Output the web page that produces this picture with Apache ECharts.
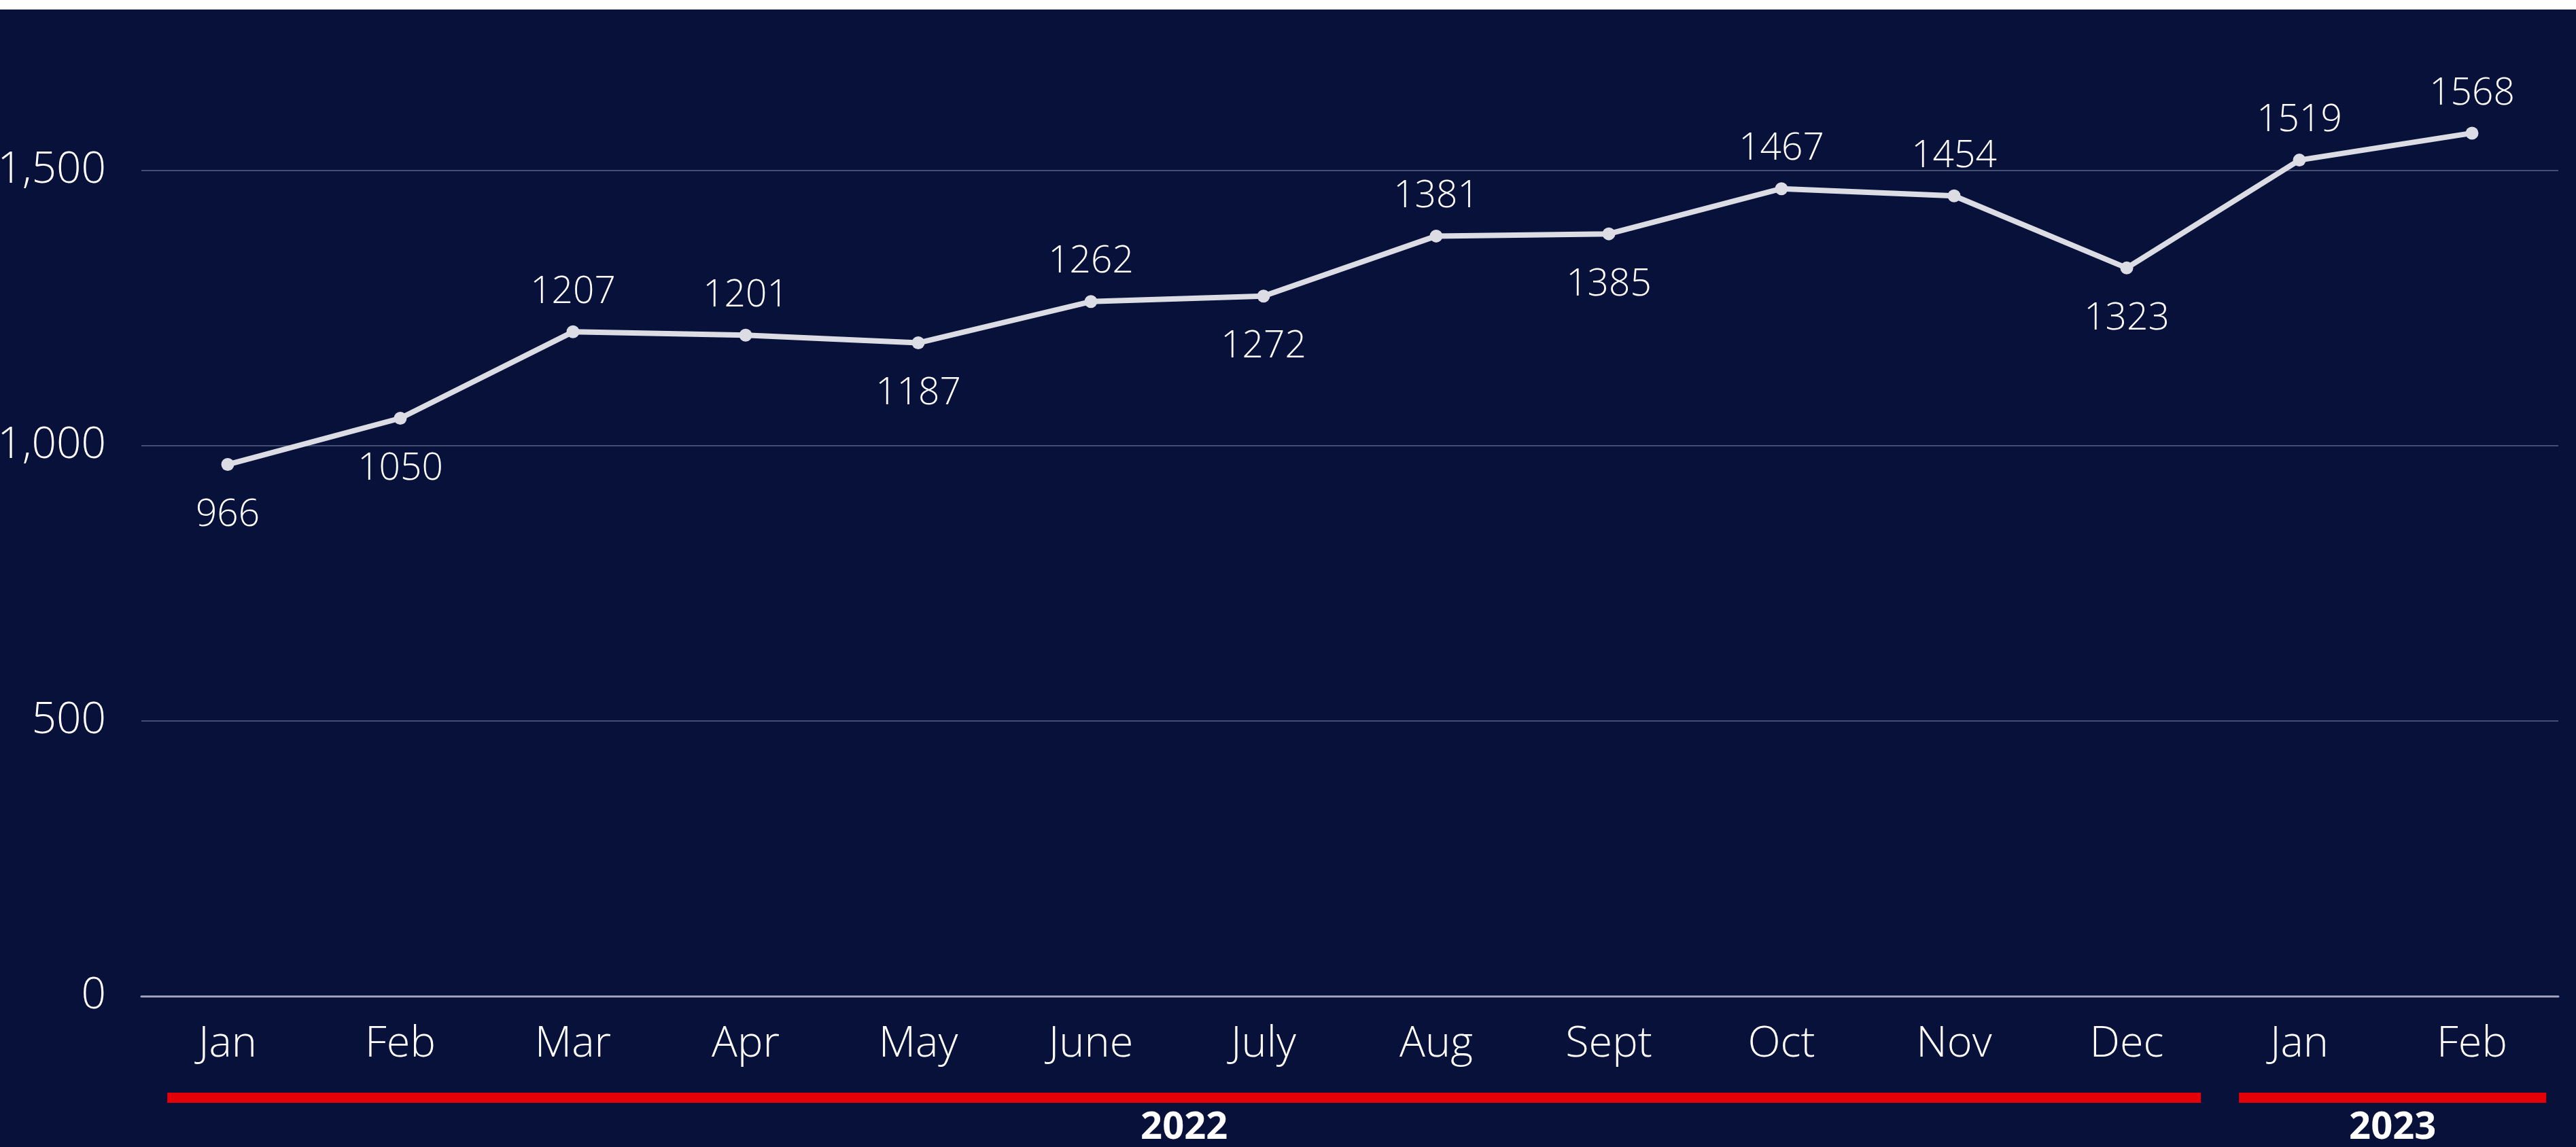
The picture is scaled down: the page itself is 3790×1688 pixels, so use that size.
<!DOCTYPE html>
<html>
<head>
<meta charset="utf-8">
<script src="https://cdn.jsdelivr.net/npm/echarts@6/dist/echarts.min.js"></script>
<style>
html,body{margin:0;padding:0;background:#fff;width:3790px;height:1688px;overflow:hidden;}
#bg{position:absolute;left:0;top:14px;width:3790px;height:1674px;background:#08113a;}
/* chart box sticks out above the page so that the 2,000 line falls off screen */
#chart{position:absolute;left:0;top:-154px;width:3790px;height:1842px;}
</style>
</head>
<body>
<div id="bg"></div>
<div id="chart"></div>
<script>
// months, 2022 Jan .. 2023 Feb
var months = ['Jan','Feb','Mar','Apr','May','June','July','Aug','Sept','Oct','Nov','Dec','Jan','Feb'];
var values = [966,1050,1207,1201,1187,1262,1272,1381,1385,1467,1454,1323,1519,1568];
// which side the value label sits on
var labelSide = ['bottom','bottom','top','top','bottom','top','bottom','top','bottom','top','top','bottom','top','top'];
// year groups under the axis (first / last month index)
var years = ['2022','2023'];
var yearFirst = [0,12];
var yearLast = [11,13];

var FONT = '"Open Sans", sans-serif';
var OFF = 154; // how far the chart box starts above the page

var chart = echarts.init(document.getElementById('chart'));

var seriesData = values.map(function(v,i){
  return {
    value: v,
    label: {
      position: labelSide[i],
      distance: labelSide[i] == 'top' ? 21 : 38
    }
  };
});

var option = {
  backgroundColor: 'transparent',
  animation: false,
  grid: {
    left: 208,
    right: 26,
    top: 0,
    bottom: 222,
    containLabel: false,
    outerBoundsMode: 'none'
  },
  xAxis: {
    type: 'category',
    data: months,
    boundaryGap: true,
    axisLine: {show: true, lineStyle: {color: '#9ea2b6', width: 3}},
    axisTick: {show: false},
    axisLabel: {
      color: '#ffffff',
      fontFamily: FONT,
      fontWeight: 300,
      fontSize: 63,
      margin: 40,
      interval: 0
    },
    splitLine: {show: false}
  },
  yAxis: {
    type: 'value',
    min: 0,
    max: 2000,
    interval: 500,
    axisLine: {show: false},
    axisTick: {show: false},
    axisLabel: {
      color: '#ffffff',
      fontFamily: FONT,
      fontWeight: 300,
      fontSize: 64,
      margin: 52,
      formatter: function(v){ return v.toLocaleString('en-US'); }
    },
    splitLine: {lineStyle: {color: '#464e70', width: 2}}
  },
  series: [{
    type: 'line',
    data: seriesData,
    symbol: 'circle',
    symbolSize: 19,
    showAllSymbol: true,
    lineStyle: {color: '#dcdde4', width: 8},
    itemStyle: {color: '#dcdde4'},
    label: {
      show: true,
      color: '#ffffff',
      fontFamily: FONT,
      fontWeight: 300,
      fontSize: 55
    },
    z: 3
  }]
};

chart.setOption(option);

// red year bars + year names, placed through the category axis
var band = chart.convertToPixel({xAxisIndex: 0}, 1) - chart.convertToPixel({xAxisIndex: 0}, 0);
var graphics = [];
for (var i = 0; i < years.length; i++) {
  var x1 = chart.convertToPixel({xAxisIndex: 0}, yearFirst[i]) - band * 0.35;
  var x2 = chart.convertToPixel({xAxisIndex: 0}, yearLast[i]) + band * 0.43;
  graphics.push({
    type: 'rect',
    shape: {x: x1, y: OFF + 1608, width: x2 - x1, height: 15},
    style: {fill: '#e30008'}
  });
  graphics.push({
    type: 'text',
    x: (x1 + x2) / 2,
    y: OFF + 1660,
    style: {
      text: years[i],
      fill: '#ffffff',
      font: 'bold 56px "Open Sans", sans-serif',
      textAlign: 'center',
      textVerticalAlign: 'middle'
    }
  });
}
chart.setOption({graphic: graphics});
</script>
</body>
</html>
